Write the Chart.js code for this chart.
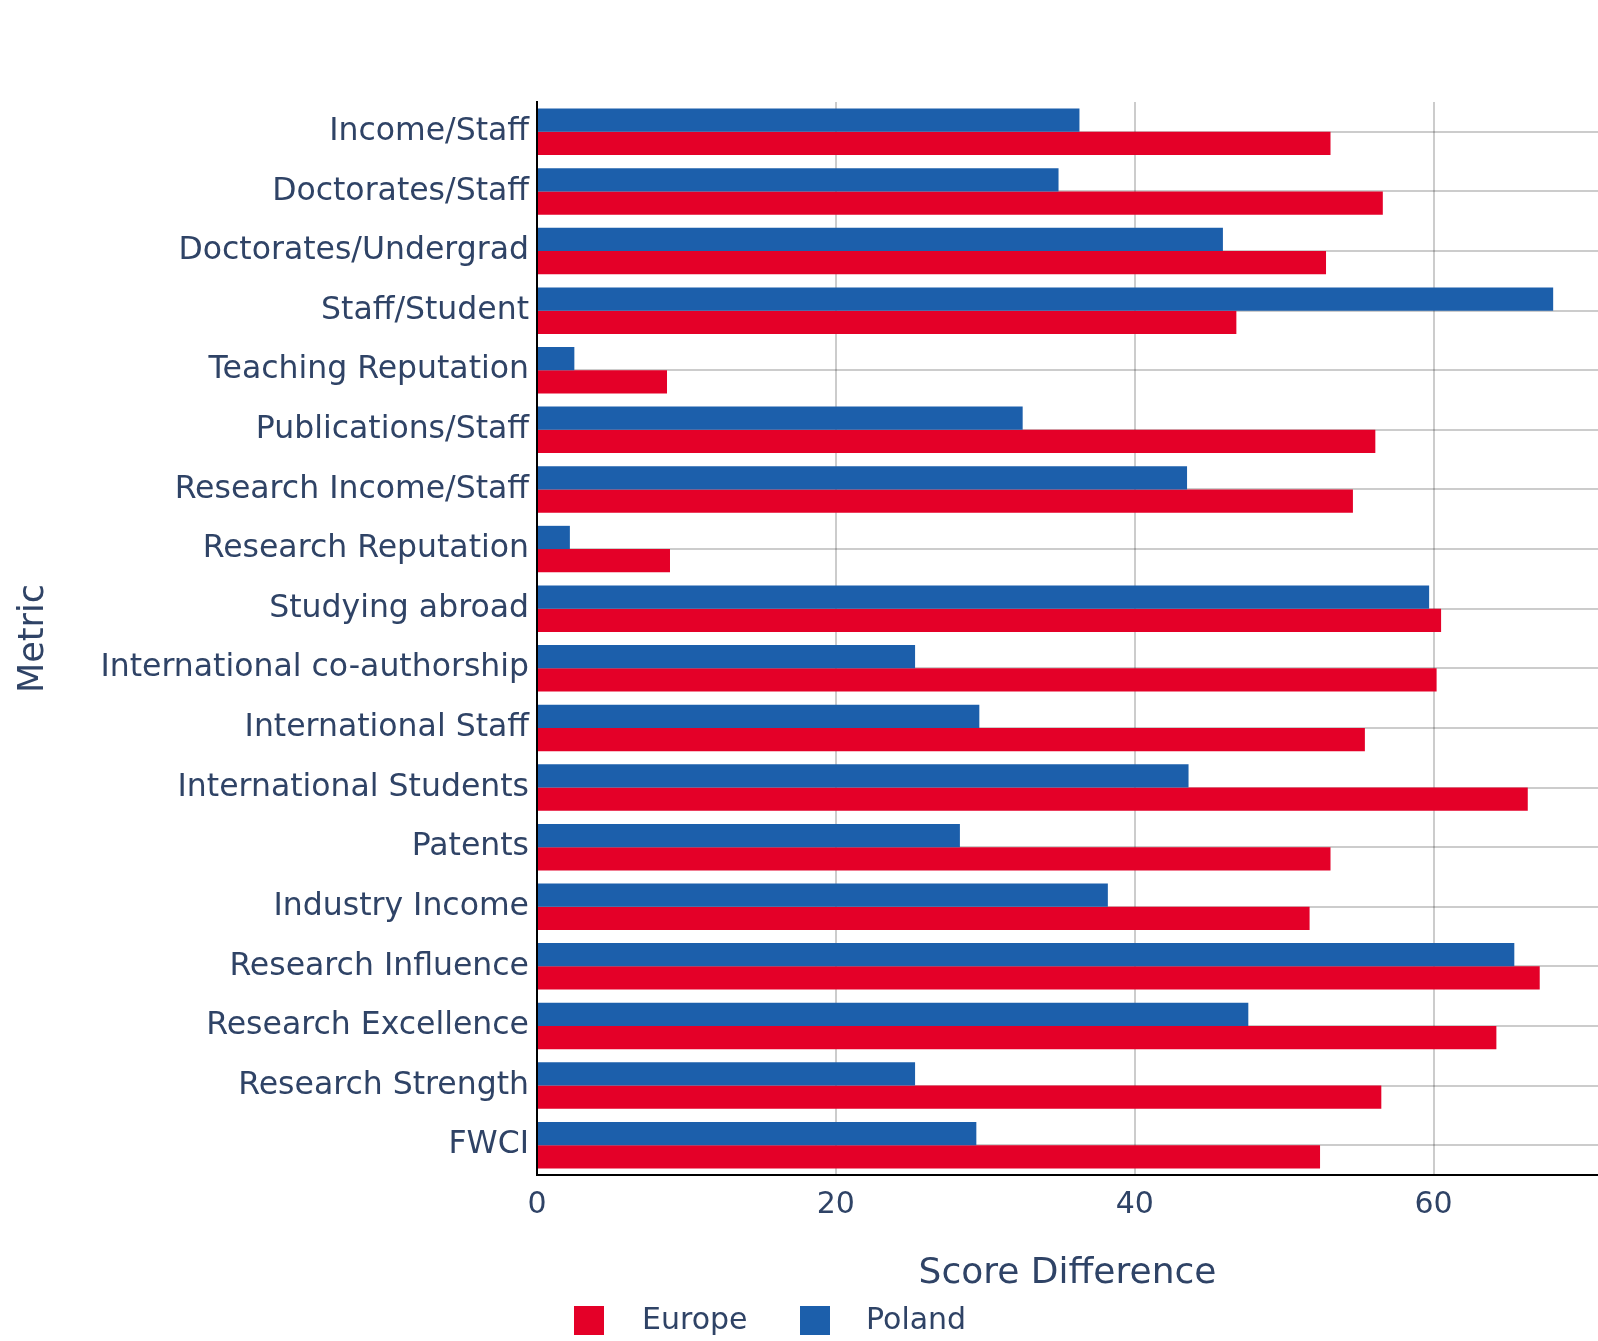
<!DOCTYPE html>
<html>
<head>
<meta charset="utf-8">
<script src="https://cdn.jsdelivr.net/npm/chart.js@4/dist/chart.umd.min.js"></script>
<style>
    html, body { margin: 0; padding: 0; background: #ffffff; }
    #wrap { width: 1598px; height: 1341px; position: relative; }
</style>
</head>
<body>
<div id="wrap"><canvas id="scoreChart"></canvas></div>
<script>
// Metrics, top to bottom
const metrics = [
    'Income/Staff', 'Doctorates/Staff', 'Doctorates/Undergrad', 'Staff/Student',
    'Teaching Reputation', 'Publications/Staff', 'Research Income/Staff', 'Research Reputation',
    'Studying abroad', 'International co-authorship', 'International Staff', 'International Students',
    'Patents', 'Industry Income', 'Research Influence', 'Research Excellence',
    'Research Strength', 'FWCI'
];

// Score differences
const polandScores = [36.3, 34.9, 45.9, 68.0, 2.5, 32.5, 43.5, 2.2, 59.7, 25.3, 29.6, 43.6, 28.3, 38.2, 65.4, 47.6, 25.3, 29.4];
const europeScores = [53.1, 56.6, 52.8, 46.8, 8.7, 56.1, 54.6, 8.9, 60.5, 60.2, 55.4, 66.3, 53.1, 51.7, 67.1, 64.2, 56.5, 52.4];

const xTicks = [0, 20, 40, 60];

const textColor = '#2f4366';
const fontFamily = '"DejaVu Sans", Verdana, sans-serif';

// legend drawn under the x title, Europe first like the original
const bottomLegend = {
    id: 'bottomLegend',
    afterDraw(chart) {
        const ctx = chart.ctx;
        const items = chart.data.datasets.slice().reverse();
        const slots = [{ box: 574, text: 642 }, { box: 800, text: 866 }];
        ctx.save();
        ctx.font = '30px ' + fontFamily;
        ctx.textBaseline = 'middle';
        items.forEach((ds, i) => {
            ctx.fillStyle = ds.backgroundColor;
            ctx.fillRect(slots[i].box, 1306, 30, 29);
            ctx.fillStyle = textColor;
            ctx.fillText(ds.label, slots[i].text, 1321);
        });
        ctx.restore();
    }
};

new Chart(document.getElementById('scoreChart'), {
    type: 'bar',
    data: {
        labels: metrics,
        datasets: [
            {
                label: 'Poland',
                data: polandScores,
                backgroundColor: '#1c5fab',
                borderWidth: 0
            },
            {
                label: 'Europe',
                data: europeScores,
                backgroundColor: '#e40028',
                borderWidth: 0
            }
        ]
    },
    options: {
        indexAxis: 'y',
        responsive: true,
        maintainAspectRatio: false,
        animation: false,
        datasets: {
            bar: { categoryPercentage: 0.78, barPercentage: 1.0 }
        },
        layout: {
            padding: { top: 102, left: 13, right: 0, bottom: 46 }
        },
        plugins: {
            legend: { display: false },
            tooltip: { enabled: false }
        },
        scales: {
            x: {
                min: 0,
                max: 71,
                afterBuildTicks: scale => {
                    scale.ticks = xTicks.map(v => ({ value: v }));
                },
                afterFit: scale => { scale.height = 120; },
                grid: {
                    color: 'rgba(0,0,0,0.2)',
                    lineWidth: 2,
                    drawTicks: false
                },
                border: { display: true, color: '#000000', width: 2 },
                ticks: {
                    padding: 12,
                    color: textColor,
                    font: { family: fontFamily, size: 30 }
                },
                title: {
                    display: true,
                    text: 'Score Difference',
                    color: textColor,
                    font: { family: fontFamily, size: 36 },
                    padding: { top: 28, bottom: 0 }
                }
            },
            y: {
                afterFit: scale => { scale.width = 524; },
                grid: {
                    offset: false,
                    color: 'rgba(0,0,0,0.2)',
                    lineWidth: 2,
                    drawTicks: false
                },
                border: { display: true, color: '#000000', width: 2 },
                ticks: {
                    padding: 8,
                    color: textColor,
                    font: { family: fontFamily, size: 31.5 }
                },
                title: {
                    display: true,
                    text: 'Metric',
                    color: textColor,
                    font: { family: fontFamily, size: 35 },
                    padding: { top: 0, bottom: 40 }
                }
            }
        }
    },
    plugins: [bottomLegend]
});
</script>
</body>
</html>
